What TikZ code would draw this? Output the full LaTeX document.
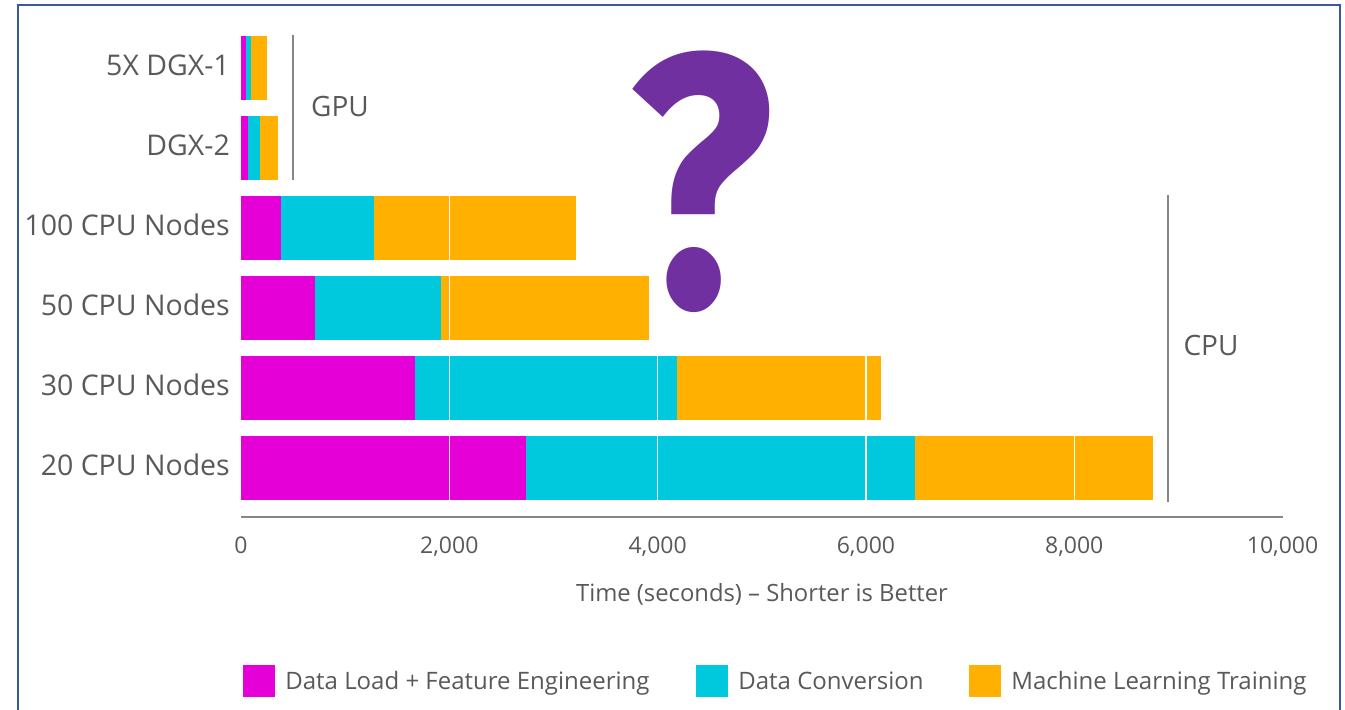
\documentclass[tikz,border=0pt]{standalone}
\usepackage{fontspec}
\setmainfont{Open Sans}
\newfontfamily\askfont{Fira Sans}
\usepackage{tikz}
\usetikzlibrary{positioning}

\definecolor{loadc}{RGB}{230,0,216}
\definecolor{convc}{RGB}{0,201,222}
\definecolor{trainc}{RGB}{255,176,0}
\definecolor{askc}{RGB}{112,48,160}
\definecolor{textc}{RGB}{89,89,89}
\definecolor{axisc}{RGB}{134,134,134}
\definecolor{framec}{RGB}{59,89,152}

\begin{document}
\begin{tikzpicture}[x=1pt, y=-1pt,
        catlbl/.style={anchor=base east, text=textc, font=\fontsize{28.5}{32}\selectfont, inner sep=0pt},
        ticklbl/.style={anchor=base, text=textc, font=\fontsize{23}{26}\selectfont, inner sep=0pt},
        grouplbl/.style={text=textc, font=\fontsize{28}{32}\selectfont, inner sep=0pt},
        legsq/.style={minimum size=32pt, inner sep=0pt},
        legtxt/.style={text=textc, font=\fontsize{24}{28}\selectfont, inner sep=0pt, anchor=west,
            text height=19pt, text depth=3pt},
        bracket/.style={draw=axisc, line width=1.5pt}]
    \useasboundingbox (0,0) rectangle (1345,710);

    % blue frame round the chart, bottom edge runs off the page
    \draw[framec, line width=2.5pt] (18,715) -- (18,5) -- (1340,5) -- (1340,715);

    % bars: name / row centre / end of load / end of conversion / end of training (seconds)
    \begin{scope}[shift={(241pt,0pt)}, x=0.10415pt]
        \foreach \name/\yc/\ld/\cv/\tr [count=\i] in {5X DGX-1/68/50/100/250, DGX-2/148/70/180/360,
                100 CPU Nodes/228/380/1280/3220, 50 CPU Nodes/308/710/1920/3920,
                30 CPU Nodes/388/1670/4190/6140, 20 CPU Nodes/468/2740/6470/8760}{
            \fill[loadc]  (0,\yc-32)   rectangle (\ld,\yc+32);
            \fill[convc]  (\ld,\yc-32) rectangle (\cv,\yc+32);
            \fill[trainc] (\cv,\yc-32) rectangle (\tr,\yc+32);
            \node[catlbl] (cat-\i) at (-11pt,\yc+7) {\name};
        }
        % white grid lines cut through the bars
        \foreach \t in {2000,4000,6000,8000}
            \draw[white, line width=1.2pt] (\t,190) -- (\t,505);

        % x axis
        \draw[axisc, line width=1.5pt] (0,517) coordinate (ax-l) -- (10000,517) coordinate (ax-r);
        \foreach \t/\lbl in {0/0,2000/{2,000},4000/{4,000},6000/{6,000},8000/{8,000},10000/{10,000}}
            \node[ticklbl] (tick-\t) at (\t,553) {\lbl};
    \end{scope}

    \node[ticklbl, font=\fontsize{23.8}{27}\selectfont] (xtitle) at (762,601) {Time (seconds) -- Shorter is Better};

    % group brackets
    \coordinate (gpu-t) at (293,35);
    \coordinate (gpu-b) at (293,180);
    \draw[bracket] (gpu-t) -- (gpu-b);
    \node[grouplbl] (gpu) at (340,106) {GPU};
    \coordinate (cpu-t) at (1168,195);
    \coordinate (cpu-b) at (1168,502);
    \draw[bracket] (cpu-t) -- (cpu-b);
    \node[grouplbl] (cpu) at (1211,345) {CPU};

    % the big question mark
    \node[text=askc, inner sep=0pt, xscale=0.84, transform shape,
        font=\askfont\bfseries\fontsize{360}{360}\selectfont] (ask) at (701,182) {?};

    % legend
    \node[legsq, fill=loadc] (leg-1) at (259,681) {};
    \node[legtxt, right=10pt of leg-1] (legt-1) {Data Load + Feature Engineering};
    \node[legsq, fill=convc] (leg-2) at (712,681) {};
    \node[legtxt, right=10pt of leg-2] (legt-2) {Data Conversion};
    \node[legsq, fill=trainc] (leg-3) at (985,681) {};
    \node[legtxt, right=10pt of leg-3] (legt-3) {Machine Learning Training};
\end{tikzpicture}
\end{document}
